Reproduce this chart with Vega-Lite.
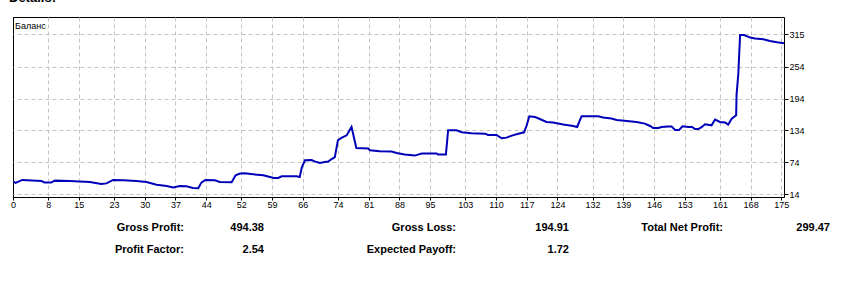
{
  "$schema": "https://vega.github.io/schema/vega-lite/v6.json",
  "width": 771,
  "height": 180,
  "autosize": {"type": "none"},
  "padding": {"left": 13, "top": 17, "right": 62, "bottom": 106},
  "background": "white",
  "title": {"text": "Details:", "anchor": "start", "frame": "group", "orient": "top", "offset": 2, "dx": -4, "baseline": "alphabetic", "fontSize": 13, "font": "Liberation Sans", "fontWeight": "bold", "color": "black"},
  "config": {"view": {"stroke": "black", "strokeWidth": 1}, "font": "Liberation Sans"},
  "datasets": {
    "stats": [
      {"label": "Gross Profit:", "value": "494.38", "col": 1, "row": 1},
      {"label": "Gross Loss:", "value": "194.91", "col": 2, "row": 1},
      {"label": "Total Net Profit:", "value": "299.47", "col": 3, "row": 1},
      {"label": "Profit Factor:", "value": "2.54", "col": 1, "row": 2},
      {"label": "Expected Payoff:", "value": "1.72", "col": 2, "row": 2}
    ]
  },
  "layer": [
    {
      "data": {"values": [
        {"trade": 0.0, "balance": 38.5}, {"trade": 0.6, "balance": 35.3}, {"trade": 2.1, "balance": 41},
        {"trade": 6.5, "balance": 39}, {"trade": 7.2, "balance": 36}, {"trade": 8.7, "balance": 36},
        {"trade": 9.5, "balance": 39.7}, {"trade": 12.9, "balance": 39}, {"trade": 17.5, "balance": 37},
        {"trade": 20.1, "balance": 33.4}, {"trade": 21.3, "balance": 34.5}, {"trade": 22.8, "balance": 41},
        {"trade": 25.1, "balance": 40.5}, {"trade": 28.1, "balance": 39}, {"trade": 30.4, "balance": 37},
        {"trade": 32.7, "balance": 32}, {"trade": 35.0, "balance": 29.6}, {"trade": 36.5, "balance": 27},
        {"trade": 38.0, "balance": 29.6}, {"trade": 39.5, "balance": 29}, {"trade": 41.0, "balance": 26},
        {"trade": 42.2, "balance": 25.3}, {"trade": 42.9, "balance": 36}, {"trade": 43.8, "balance": 41},
        {"trade": 46.0, "balance": 40.3}, {"trade": 47.1, "balance": 37}, {"trade": 49.8, "balance": 36.5},
        {"trade": 50.7, "balance": 49.7}, {"trade": 51.7, "balance": 53}, {"trade": 52.8, "balance": 53.5},
        {"trade": 54.7, "balance": 51.6}, {"trade": 57.0, "balance": 49.7}, {"trade": 58.1, "balance": 47.3},
        {"trade": 59.4, "balance": 44.7}, {"trade": 60.4, "balance": 44.7}, {"trade": 61.2, "balance": 47.9},
        {"trade": 64.6, "balance": 47.9}, {"trade": 65.3, "balance": 46.5}, {"trade": 65.8, "balance": 65.4},
        {"trade": 66.5, "balance": 78}, {"trade": 68.0, "balance": 78.5}, {"trade": 68.7, "balance": 76},
        {"trade": 69.9, "balance": 72.9}, {"trade": 71.0, "balance": 74.8}, {"trade": 71.8, "balance": 75.5},
        {"trade": 72.5, "balance": 79.8}, {"trade": 73.3, "balance": 84}, {"trade": 74.0, "balance": 115.6},
        {"trade": 74.8, "balance": 120}, {"trade": 76.0, "balance": 125}, {"trade": 77.1, "balance": 140.6},
        {"trade": 78.2, "balance": 101}, {"trade": 80.9, "balance": 100}, {"trade": 81.3, "balance": 96.8},
        {"trade": 83.5, "balance": 94.9}, {"trade": 86.2, "balance": 94.3}, {"trade": 87.4, "balance": 91.7},
        {"trade": 89.2, "balance": 88.7}, {"trade": 91.5, "balance": 86.8}, {"trade": 93.1, "balance": 90.6},
        {"trade": 96.5, "balance": 90.6}, {"trade": 96.8, "balance": 88.7}, {"trade": 98.6, "balance": 88.7},
        {"trade": 99.1, "balance": 134.4}, {"trade": 101.0, "balance": 134.4}, {"trade": 102.2, "balance": 130.6},
        {"trade": 104.4, "balance": 128.7}, {"trade": 107.5, "balance": 128}, {"trade": 108.2, "balance": 125.5},
        {"trade": 110.1, "balance": 125.5}, {"trade": 111.3, "balance": 119.3}, {"trade": 112.4, "balance": 120.6},
        {"trade": 113.6, "balance": 124.4}, {"trade": 115.1, "balance": 128}, {"trade": 116.4, "balance": 130.6},
        {"trade": 117.0, "balance": 143.8}, {"trade": 117.6, "balance": 160.7}, {"trade": 118.9, "balance": 159.4},
        {"trade": 120.0, "balance": 155.6}, {"trade": 121.5, "balance": 150}, {"trade": 123.0, "balance": 148.9},
        {"trade": 125.3, "balance": 145.1}, {"trade": 127.6, "balance": 142.5}, {"trade": 128.5, "balance": 140.6},
        {"trade": 129.1, "balance": 153.2}, {"trade": 129.5, "balance": 160.7}, {"trade": 133.3, "balance": 160.7},
        {"trade": 134.4, "balance": 158.3}, {"trade": 136.3, "balance": 156.4}, {"trade": 137.5, "balance": 153.8},
        {"trade": 139.8, "balance": 151.9}, {"trade": 142.0, "balance": 150}, {"trade": 143.9, "balance": 147},
        {"trade": 145.1, "balance": 142.5}, {"trade": 145.8, "balance": 138.7}, {"trade": 147.0, "balance": 138.7},
        {"trade": 147.7, "balance": 140.6}, {"trade": 149.2, "balance": 141.3}, {"trade": 150.0, "balance": 141.3},
        {"trade": 150.8, "balance": 135}, {"trade": 151.7, "balance": 135}, {"trade": 152.5, "balance": 141.9},
        {"trade": 153.8, "balance": 140.6}, {"trade": 154.7, "balance": 140.6}, {"trade": 155.3, "balance": 136.8},
        {"trade": 156.1, "balance": 136.8}, {"trade": 156.9, "balance": 140.6}, {"trade": 157.6, "balance": 145.7},
        {"trade": 159.1, "balance": 143.8}, {"trade": 159.9, "balance": 154.5}, {"trade": 161.0, "balance": 150},
        {"trade": 162.2, "balance": 148.9}, {"trade": 162.9, "balance": 145.1}, {"trade": 163.7, "balance": 156.4},
        {"trade": 164.7, "balance": 162.6}, {"trade": 164.8, "balance": 202}, {"trade": 165.2, "balance": 241},
        {"trade": 165.4, "balance": 278.6}, {"trade": 165.6, "balance": 313.7}, {"trade": 166.5, "balance": 313.7},
        {"trade": 167.9, "balance": 308.8}, {"trade": 169.0, "balance": 307}, {"trade": 170.9, "balance": 305.6},
        {"trade": 172.4, "balance": 302.4}, {"trade": 174.0, "balance": 300}, {"trade": 175.6, "balance": 298}
      ]},
      "mark": {"type": "line", "strokeWidth": 2, "interpolate": "linear", "clip": true},
      "encoding": {
        "x": {
          "field": "trade", "type": "quantitative",
          "scale": {"domain": [0, 175.6], "nice": false, "zero": false},
          "axis": {
            "orient": "bottom", "title": null,
            "values": [0, 8, 15, 23, 30, 37, 44, 52, 59, 66, 74, 81, 88, 95, 103, 110, 117, 124, 132, 139, 146, 153, 161, 168, 175],
            "grid": true,
            "gridColor": {"condition": {"test": "datum.value === 0", "value": "black"}, "value": "#c4c4c4"},
            "gridDash": {"condition": {"test": "datum.value === 0", "value": []}, "value": [4, 3]},
            "gridWidth": 1,
            "domain": false, "ticks": true, "tickColor": "black", "tickSize": 3,
            "labelFont": "Liberation Sans", "labelFontSize": 9, "labelColor": "black", "labelPadding": 0,
            "labelFlush": false, "labelOverlap": false, "labelBound": false,
            "encode": {"labels": {"update": {"align": {"signal": "datum.value === 0 ? 'left' : 'right'"}}}}
          }
        },
        "y": {
          "field": "balance", "type": "quantitative",
          "scale": {"domain": [8.9, 347.5], "nice": false, "zero": false},
          "axis": {
            "orient": "right", "title": null,
            "values": [14, 74, 134, 194, 254, 315],
            "grid": true, "gridColor": "#c4c4c4", "gridDash": [4, 3], "gridWidth": 1,
            "domain": false, "ticks": true, "tickColor": "black", "tickSize": 4,
            "labelFont": "Liberation Sans", "labelFontSize": 9, "labelColor": "black", "labelPadding": 1,
            "labelOverlap": false, "labelBound": false, "labelFlush": false
          }
        },
        "color": {
          "datum": "Баланс",
          "scale": {"range": ["#0000b8"]},
          "legend": {
            "orient": "none", "legendX": -7, "legendY": 4, "padding": 0, "title": null,
            "symbolSize": 0, "symbolOpacity": 0, "symbolStrokeWidth": 0, "labelOffset": 0,
            "labelFont": "Liberation Sans", "labelFontSize": 9, "labelColor": "black"
          }
        }
      }
    },
    {
      "data": {"name": "stats"},
      "mark": {"type": "text", "align": "right", "baseline": "middle", "fontSize": 11, "fontWeight": "bold", "font": "Liberation Sans", "color": "black"},
      "encoding": {
        "x": {"field": "col", "type": "quantitative", "scale": {"domain": [1, 2, 3], "range": [171, 443, 710]}, "axis": null},
        "y": {"field": "row", "type": "quantitative", "scale": {"domain": [1, 2], "range": [211, 233]}, "axis": null},
        "text": {"field": "label"}
      }
    },
    {
      "data": {"name": "stats"},
      "mark": {"type": "text", "align": "right", "baseline": "middle", "fontSize": 11, "fontWeight": "bold", "font": "Liberation Sans", "color": "black"},
      "encoding": {
        "x": {"field": "col", "type": "quantitative", "scale": {"domain": [1, 2, 3], "range": [251, 556, 817]}, "axis": null},
        "y": {"field": "row", "type": "quantitative", "scale": {"domain": [1, 2], "range": [211, 233]}, "axis": null},
        "text": {"field": "value"}
      }
    }
  ],
  "resolve": {"scale": {"x": "independent", "y": "independent"}}
}
